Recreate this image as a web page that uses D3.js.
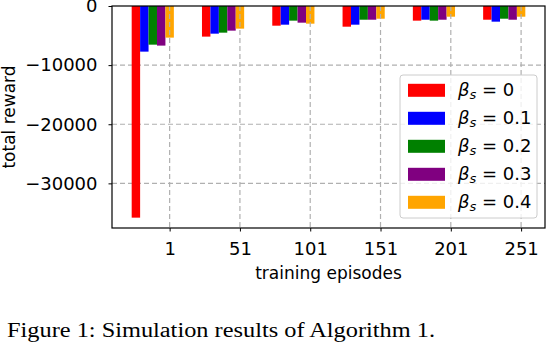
<!DOCTYPE html>
<html><head><meta charset="utf-8">
<script src="https://cdn.jsdelivr.net/npm/d3@7"></script>
<style>body{margin:0;background:#fff}svg{display:block}</style>
</head><body>
<script>
const categories = ["1", "51", "101", "151", "201", "251"];
const seriesNames = ["0", "0.1", "0.2", "0.3", "0.4"];
const colors = ["#ff0000", "#0000ff", "#008000", "#800080", "#ffa500"];
const beta0  = [-35800, -5180, -3330, -3500, -2480, -2320];
const beta01 = [-7720, -4680, -3160, -3160, -2320, -2650];
const beta02 = [-6540, -4510, -2480, -2320, -2480, -2150];
const beta03 = [-6700, -4170, -2820, -2320, -2320, -2320];
const beta04 = [-5350, -3830, -2990, -2150, -1810, -1810];
const series = [beta0, beta01, beta02, beta03, beta04];
const yTicks = [0, -10000, -20000, -30000];

const W = 546, H = 352;
const L = 112, R = 545, T = 6, B = 228;
const svg = d3.select("body").append("svg").attr("width", W).attr("height", H);
const font = "DejaVu Sans";

const x = d3.scaleLinear().domain([-0.82, 5.34]).range([L, R]);
const y = d3.scaleLinear().domain([-37550, 0]).range([B, T]);
const bw = 0.12;

const grid = "#b0b0b0";
svg.append("g").selectAll("line").data(yTicks.filter(d => d !== 0)).join("line")
  .attr("x1", L).attr("x2", R).attr("y1", d => y(d)).attr("y2", d => y(d))
  .attr("stroke", grid).attr("stroke-width", 1.2).attr("stroke-dasharray", "5,3");

series.forEach((vals, j) => {
  svg.append("g").selectAll("rect").data(vals).join("rect")
    .attr("x", (d, i) => x(i - (4 - j) * bw - bw / 2))
    .attr("width", x(bw) - x(0))
    .attr("y", y(0))
    .attr("height", d => y(d) - y(0))
    .attr("fill", colors[j]);
});

svg.append("g").selectAll("line").data(categories).join("line")
  .attr("x1", (d, i) => x(i)).attr("x2", (d, i) => x(i)).attr("y1", T).attr("y2", B)
  .attr("stroke", grid).attr("stroke-width", 1.2).attr("stroke-dasharray", "5,3");

const xAxis = d3.axisBottom(x).tickValues(d3.range(categories.length))
  .tickFormat(i => categories[i]).tickSize(3.5).tickPadding(11);
const gx = svg.append("g").attr("transform", `translate(0,${B})`).call(xAxis);
gx.select(".domain").remove();
gx.selectAll("text").attr("font-family", font).attr("font-size", 18).attr("fill", "#000");

const yAxis = d3.axisLeft(y).tickValues(yTicks)
  .tickFormat(d => d === 0 ? "0" : "\u2212" + Math.abs(d)).tickSize(3.5).tickPadding(11);
const gy = svg.append("g").attr("transform", `translate(${L},0)`).call(yAxis);
gy.select(".domain").remove();
gy.selectAll("text").attr("font-family", font).attr("font-size", 18).attr("fill", "#000");

svg.append("rect").attr("x", L).attr("y", T).attr("width", R - L).attr("height", B - T)
  .attr("fill", "none").attr("stroke", "#000").attr("stroke-width", 1.2);

svg.append("text").attr("x", (L + R) / 2).attr("y", 279).attr("text-anchor", "middle")
  .attr("font-family", font).attr("font-size", 17).text("training episodes");
svg.append("text").attr("transform", `translate(15,${(T + B) / 2}) rotate(-90)`)
  .attr("text-anchor", "middle").attr("font-family", font).attr("font-size", 17).text("total reward");

const lg = svg.append("g");
lg.append("rect").attr("x", 400).attr("y", 75).attr("width", 137).attr("height", 143).attr("rx", 3)
  .attr("fill", "#fff").attr("fill-opacity", 0.8).attr("stroke", "#cccccc").attr("stroke-width", 1);
seriesNames.forEach((n, k) => {
  const cy = 90.3 + 28 * k;
  lg.append("rect").attr("x", 408).attr("y", cy - 6.5).attr("width", 37).attr("height", 13).attr("fill", colors[k]);
  const t = lg.append("text").attr("x", 458).attr("y", cy + 6).attr("font-family", font).attr("font-size", 18);
  t.append("tspan").attr("font-style", "italic").text("\u03b2");
  t.append("tspan").attr("font-style", "italic").attr("font-size", 13).attr("dy", 3).text("s");
  t.append("tspan").attr("dy", -3).text(" = " + n);
});

svg.append("text").attr("x", 7).attr("y", 337).attr("font-family", "Liberation Serif, DejaVu Serif, serif")
  .attr("font-size", 20).attr("textLength", 428).attr("lengthAdjust", "spacingAndGlyphs")
  .text("Figure 1: Simulation results of Algorithm 1.");
</script>
</body></html>
